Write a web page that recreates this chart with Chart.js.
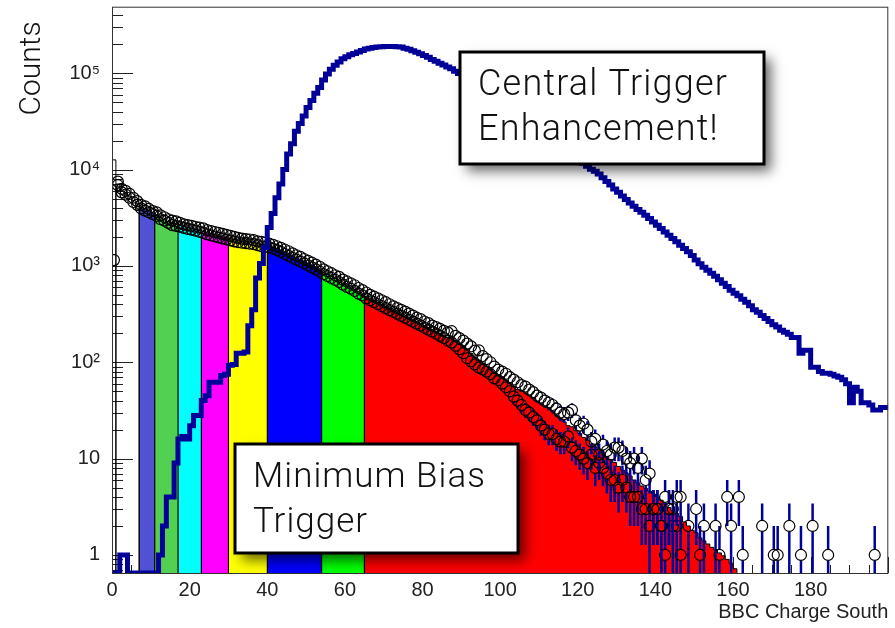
<!DOCTYPE html>
<html>
<head>
<meta charset="utf-8">
<script src="https://cdn.jsdelivr.net/npm/chart.js@4.4.1/dist/chart.umd.min.js"></script>
<style>
    html, body { margin: 0; padding: 0; background: #ffffff; }
</style>
</head>
<body>
<canvas id="bbcChart" width="895" height="628"></canvas>
<script>
/* ===============================
   Data (one bin = one unit of BBC charge)
   =============================== */
const X_MIN = 0, X_MAX = 200;
const Y_MIN = 0.65, Y_MAX = 4.9e5;

const xTickValues = [0, 20, 40, 60, 80, 100, 120, 140, 160, 180];
const yTickValues = [1, 10, 100, 1000, 10000, 100000];
const yTickLabels = ["1", "10", "10²", "10³", "10⁴", "10⁵"];

// centrality slices of the minimum bias fit
const sliceEdges = [0, 1, 7, 11, 17, 23, 30, 40, 54, 65, 161];
const sliceColors = [null, null, "#5151d6", "#51d051", "#00ffff", "#ff00ff", "#ffff00", "#0000ff", "#00ff00", "#ff0000"];

// minimum bias fit, bins 0..160
const mbFit = [
    12600, 7080, 6030, 5750, 5300, 4790, 4470, 4070, 3890, 3720,
    3550, 3390, 3160, 3020, 2880, 2750, 2690, 2630, 2570, 2510,
    2450, 2400, 2340, 2290, 2190, 2140, 2090, 2040, 1990, 1950,
    1900, 1860, 1820, 1800, 1780, 1760, 1740, 1700, 1660, 1640,
    1620, 1550, 1510, 1450, 1380, 1320, 1260, 1200, 1150, 1100,
    1050, 1000, 955, 910, 850, 813, 776, 741, 708, 661,
    631, 603, 575, 537, 513, 479, 457, 437, 417, 398,
    380, 363, 347, 331, 316, 302, 288, 275, 263, 251,
    240, 229, 219, 209, 200, 191, 182, 178, 166, 155,
    145, 135, 123, 112, 105, 98, 91, 85, 78, 72,
    69, 65, 60, 56, 52, 50, 48, 45, 42, 39,
    37, 35, 34, 31, 28, 26, 24, 22, 21.4, 19.5,
    18.2, 16.6, 15.5, 14.1, 13.2, 12.3, 11.2, 10.5, 9.8, 9.1,
    8.3, 7.6, 7.1, 6.6, 6.0, 5.6, 5.2, 4.9, 4.6, 4.3,
    4.0, 3.7, 3.4, 3.1, 2.9, 2.7, 2.5, 2.2, 2.0, 1.8,
    1.7, 1.5, 1.4, 1.3, 1.2, 1.13, 1.05, 0.98, 0.9, 0.82,
    0.72
];

// central trigger, bins 0..199
const ctCounts = [
    0, 0, 1, 1, 0, 0, 0, 0, 0, 0,
    0, 0, 1, 2, 4, 4, 9, 16, 17, 16,
    22, 28, 28, 40, 45, 62, 62, 62, 73, 75,
    93, 95, 124, 124, 128, 240, 350, 750, 1060, 1550,
    2500, 3500, 5100, 7100, 10000, 14500, 18500, 25000, 30000, 36000,
    44000, 52000, 62000, 71000, 85000, 98000, 110000, 121000, 131000, 141000,
    148000, 155000, 160000, 166000, 172000, 178000, 182000, 185000, 187000, 188000,
    189000, 189000, 189000, 188000, 187000, 182000, 177000, 171000, 165000, 159000,
    153000, 146000, 139000, 133000, 127000, 122000, 116000, 111000, 105000, 99000,
    94000, 89000, 84000, 79000, 75000, 70000, 66000, 62000, 58000, 55000,
    51000, 48000, 45000, 42000, 39500, 37000, 34500, 32000, 30000, 28000,
    26000, 24000, 22500, 21000, 19500, 18000, 16800, 15600, 14500, 13400,
    12500, 11600, 10800, 10100, 9600, 9000, 8200, 7500, 6900, 6300,
    5800, 5300, 4900, 4500, 4150, 3850, 3600, 3350, 3100, 2850,
    2650, 2450, 2250, 2080, 1930, 1780, 1640, 1520, 1400, 1280,
    1150, 1050, 970, 900, 840, 780, 720, 660, 610, 560,
    520, 490, 450, 420, 385, 350, 330, 305, 285, 265,
    245, 232, 215, 205, 195, 181, 181, 124, 133, 133,
    89, 89, 80, 77, 77, 75, 72, 70, 66, 60,
    38, 55, 50, 38, 38, 36, 32, 32, 34, 34
];

// minimum bias data points, two runs, bins 0..199 (null = empty bin)
const mbDataA = [
    1150, 7500, 6300, 6000, 5600, 5100, 4700, 4300, 4150, 3900,
    3700, 3600, 3350, 3200, 3050, 2950, 2900, 2800, 2700, 2650,
    2600, 2550, 2500, 2450, 2350, 2300, 2250, 2200, 2150, 2100,
    2050, 2000, 1950, 1920, 1900, 1880, 1850, 1800, 1780, 1750,
    1700, 1650, 1600, 1540, 1480, 1420, 1350, 1290, 1240, 1180,
    1130, 1080, 1030, 980, 920, 880, 840, 800, 770, 720,
    690, 660, 630, 590, 560, 530, 500, 480, 460, 440,
    420, 400, 380, 365, 350, 335, 320, 305, 290, 280,
    265, 255, 240, 232, 222, 212, 204, 210, 188, 178,
    168, 156, 146, 132, 133, 116, 108, 100, 90, 84,
    80, 76, 70, 66, 62, 58, 56, 52, 49, 45,
    43, 40, 38, 36, 33, 30, 29, 30, 32, 25,
    22, 23, 20, 15, 16, 11, 14, 12, 11, 13,
    13, 12, 10, 9, 10, 8, 10, 6, 7, 3,
    3, 2, 4, 3, 3, 4, 4, null, 2, null,
    3, 1, 2, null, null, 2, 1, null, 4, 2,
    null, 4, 1, null, null, null, null, 2, null, null,
    1, 1, null, null, 2, null, null, 1, null, null,
    2, null, null, null, 1, null, null, null, null, null,
    null, null, null, null, null, null, 1, null, null, null
];
const mbDataB = [
    null, 6900, 5800, 5500, 5100, 4600, 4300, 3950, 3750, 3600,
    3450, 3300, 3050, 2950, 2800, 2650, 2600, 2550, 2480, 2420,
    2380, 2320, 2260, 2200, 2120, 2070, 2020, 1970, 1930, 1880,
    1840, 1800, 1760, 1740, 1720, 1700, 1680, 1640, 1600, 1580,
    1560, 1500, 1460, 1400, 1330, 1270, 1210, 1160, 1110, 1060,
    1010, 965, 920, 875, 820, 785, 750, 715, 680, 640,
    605, 580, 550, 515, 495, 460, 440, 420, 400, 382,
    365, 348, 333, 318, 303, 290, 276, 264, 252, 240,
    228, 218, 208, 198, 188, 178, 168, 160, 148, 136,
    124, 110, 102, 95, 88, 84, 80, 75, 68, 65,
    60, 55, 50, 44, 40, 36, 32, 30, 27, 25,
    22, 20, 18, 18, 16, 15, 15, 17, 13, 12,
    11, 10, 9, 11, 8, 9, 8, 7, 6, 6,
    5, 6, 5, 4, 4, 4, 3, 3, 2, 3,
    3, 2, 1, 3, 2, 2, 1
];

/* ===============================
   Build datasets
   =============================== */
function stepPoints(values, from, to) {
    // left bin edges, closed down to the axis floor on both sides
    const pts = [{ x: from, y: Y_MIN }];
    for (let i = from; i < to; i++) {
        pts.push({ x: i, y: Math.max(values[i] || 0, Y_MIN) });
    }
    pts.push({ x: to, y: Y_MIN });
    return pts;
}

function markerPoints(values) {
    const pts = [];
    values.forEach((v, i) => {
        if (v !== null && v !== undefined) pts.push({ x: i + 0.5, y: v });
    });
    return pts;
}

const datasets = [];

// central trigger histogram (drawn on top)
const ctPoints = ctCounts.map((v, i) => ({ x: i, y: Math.max(v, Y_MIN) }));
ctPoints.push({ x: ctCounts.length, y: Math.max(ctCounts[ctCounts.length - 1], Y_MIN) });
datasets.push({
    label: "Central Trigger",
    data: ctPoints,
    stepped: true,
    borderColor: "#000099",
    borderWidth: 5,
    borderJoinStyle: "miter",
    pointRadius: 0,
    fill: false,
    order: 0
});

// minimum bias data markers
[mbDataA, mbDataB].forEach((vals, k) => {
    datasets.push({
        label: "MB data " + (k + 1),
        data: markerPoints(vals),
        showLine: false,
        pointRadius: 5.5,
        pointBorderWidth: 1.2,
        pointBorderColor: "#000000",
        pointBackgroundColor: "rgba(0,0,0,0)",
        errorBars: true,
        order: 1
    });
});

// minimum bias fit, one dataset per centrality slice
for (let s = 0; s < sliceEdges.length - 1; s++) {
    const col = sliceColors[s];
    datasets.push({
        label: "slice " + s,
        data: stepPoints(mbFit, sliceEdges[s], sliceEdges[s + 1]),
        stepped: true,
        borderColor: "#000000",
        borderWidth: 1,
        pointRadius: 0,
        backgroundColor: col || "rgba(0,0,0,0)",
        fill: col ? "start" : false,
        order: 2
    });
}

/* ===============================
   Plugins: ROOT style ticks, frame, error bars, note boxes
   =============================== */
const rootAxes = {
    id: "rootAxes",
    beforeDatasetsDraw(chart) {
        const { ctx, chartArea: a, scales: { x, y } } = chart;
        ctx.save();
        ctx.strokeStyle = "#222";
        ctx.lineWidth = 1;
        ctx.beginPath();
        for (let v = X_MIN; v <= X_MAX; v += 5) {
            const px = Math.round(x.getPixelForValue(v)) + 0.5;
            const len = v % 20 === 0 ? 16 : 8;
            ctx.moveTo(px, a.bottom);
            ctx.lineTo(px, a.bottom - len);
        }
        for (let e = -1; e <= 5; e++) {
            for (let m = 1; m <= 9; m++) {
                const v = m * Math.pow(10, e);
                if (v < Y_MIN || v > Y_MAX) continue;
                const py = Math.round(y.getPixelForValue(v)) + 0.5;
                ctx.moveTo(a.left, py);
                ctx.lineTo(a.left + (m === 1 ? 21 : 11), py);
            }
        }
        ctx.stroke();
        ctx.restore();
    },
    afterDatasetsDraw(chart) {
        const { ctx, chartArea: a } = chart;
        ctx.save();
        ctx.strokeStyle = "#333";
        ctx.lineWidth = 1;
        ctx.strokeRect(a.left + 0.5, a.top + 0.5, a.right - a.left - 1, a.bottom - a.top);
        ctx.restore();
    }
};

const errorBars = {
    id: "errorBars",
    beforeDatasetDraw(chart, args) {
        const ds = chart.data.datasets[args.index];
        if (!ds.errorBars) return;
        const { ctx, chartArea: a, scales: { x, y } } = chart;
        const r = ds.pointRadius;
        ctx.save();
        ctx.beginPath();
        ctx.rect(a.left, a.top, a.right - a.left, a.bottom - a.top);
        ctx.clip();
        ctx.strokeStyle = "#00009c";
        ctx.lineWidth = 2.5;
        ctx.beginPath();
        ds.data.forEach(p => {
            const err = Math.sqrt(p.y);
            const px = x.getPixelForValue(p.x);
            const py = y.getPixelForValue(p.y);
            const top = y.getPixelForValue(p.y + err);
            const low = p.y - err > 0 ? y.getPixelForValue(p.y - err) : a.bottom + 5;
            if (top < py - r) { ctx.moveTo(px, py - r); ctx.lineTo(px, top); }
            if (low > py + r) { ctx.moveTo(px, py + r); ctx.lineTo(px, low); }
        });
        ctx.stroke();
        ctx.restore();
    }
};

const noteBoxes = [
    { lines: ["Central Trigger", "Enhancement!"], left: 460, top: 52, width: 304, height: 112, size: 36, spacing: 1.2 },
    { lines: ["Minimum Bias", "Trigger"], left: 235, top: 444, width: 283, height: 109, size: 35, spacing: 1.0 }
];

const noteBoxPlugin = {
    id: "noteBoxes",
    afterDraw(chart) {
        const ctx = chart.ctx;
        noteBoxes.forEach(b => {
            ctx.save();
            ctx.shadowColor = "rgba(0,0,0,0.6)";
            ctx.shadowBlur = 12;
            ctx.shadowOffsetX = 7;
            ctx.shadowOffsetY = 7;
            ctx.fillStyle = "#ffffff";
            ctx.fillRect(b.left, b.top, b.width, b.height);
            ctx.restore();

            ctx.save();
            ctx.strokeStyle = "#000";
            ctx.lineWidth = 3;
            ctx.strokeRect(b.left, b.top, b.width, b.height);
            ctx.fillStyle = "#111";
            ctx.font = "300 " + b.size + "px Roboto, 'Liberation Sans', sans-serif";
            ctx.letterSpacing = b.spacing + "px";
            ctx.textBaseline = "alphabetic";
            b.lines.forEach((t, i) => {
                ctx.fillText(t, b.left + 18, b.top + 43 + i * 45);
            });
            ctx.restore();
        });
    }
};

/* ===============================
   Chart
   =============================== */
const axisFont = { family: "'Liberation Sans', Arial, sans-serif", size: 20 };

new Chart(document.getElementById("bbcChart"), {
    type: "line",
    data: { datasets: datasets },
    options: {
        responsive: false,
        animation: false,
        devicePixelRatio: 1,
        layout: { padding: { left: 0, right: 3, top: 6, bottom: 0 } },
        plugins: {
            legend: { display: false },
            tooltip: { enabled: false }
        },
        scales: {
            x: {
                type: "linear",
                min: X_MIN,
                max: X_MAX,
                afterFit: s => { s.height = 55; s.paddingLeft = 0; s.paddingRight = 0; },
                afterBuildTicks: s => { s.ticks = xTickValues.map(v => ({ value: v })); },
                ticks: { font: axisFont, color: "#222", padding: 5, maxRotation: 0, autoSkip: false },
                grid: { display: false, drawTicks: false },
                border: { display: false },
                title: {
                    display: true,
                    text: "BBC Charge South",
                    align: "end",
                    color: "#222",
                    font: { family: axisFont.family, size: 20 },
                    padding: { top: 0, bottom: 4 }
                }
            },
            y: {
                type: "logarithmic",
                min: Y_MIN,
                max: Y_MAX,
                afterFit: s => { s.width = 112; s.paddingTop = 0; s.paddingBottom = 0; },
                afterBuildTicks: s => { s.ticks = yTickValues.map(v => ({ value: v })); },
                ticks: {
                    font: axisFont,
                    color: "#222",
                    padding: 12,
                    autoSkip: false,
                    callback: (value, index) => yTickLabels[index]
                },
                grid: { display: false, drawTicks: false },
                border: { display: false },
                title: {
                    display: true,
                    text: "Counts  ",
                    align: "end",
                    color: "#111",
                    font: { family: "Roboto, 'Liberation Sans', sans-serif", size: 30, weight: "300" },
                    padding: { top: 14, bottom: 0 }
                }
            }
        }
    },
    plugins: [rootAxes, errorBars, noteBoxPlugin]
});
</script>
</body>
</html>
